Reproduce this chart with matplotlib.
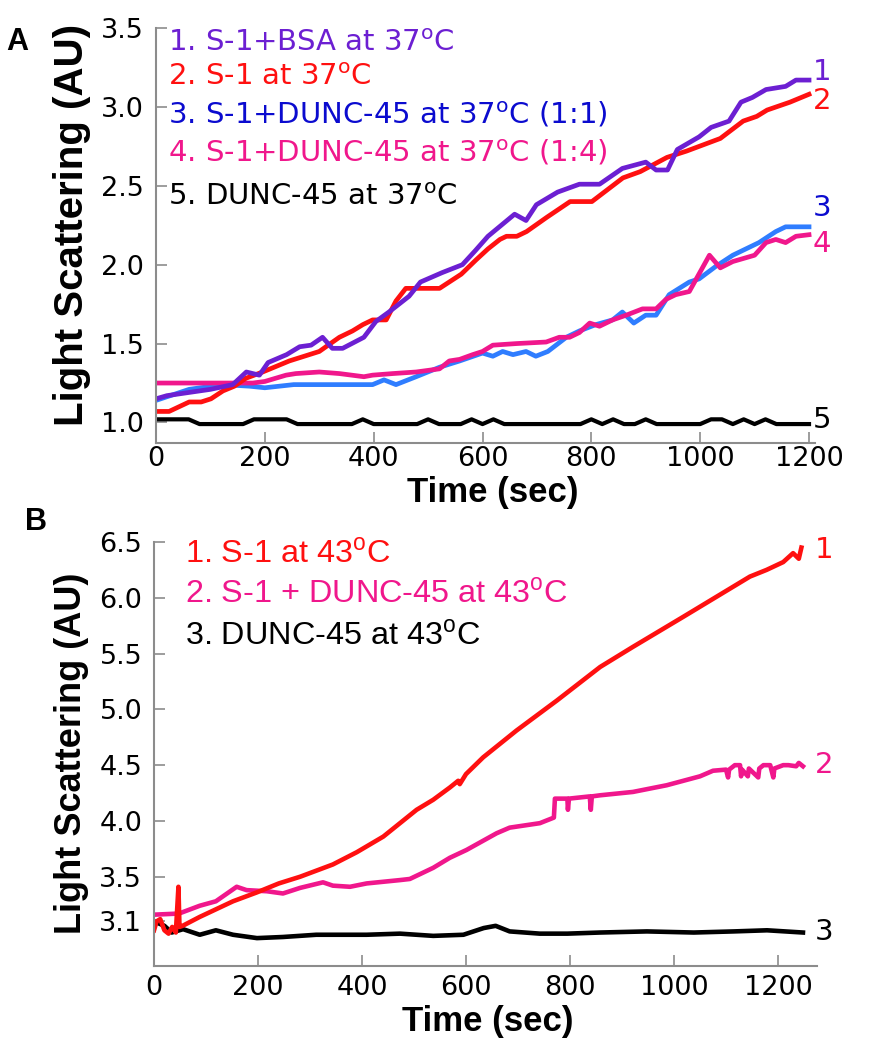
import matplotlib.pyplot as plt

# Panel A - light scattering at 37 C (sampled ~ every 20 s)
tA1 = [0, 20, 60, 100, 141, 166, 190, 206, 240, 264, 285, 306, 324, 343, 382, 404, 428, 465, 486, 526,
       563, 587, 610, 631, 659, 680, 699, 738, 778, 815, 857, 900, 919, 940, 958, 998, 1020, 1053, 1075,
       1096, 1121, 1139, 1157, 1176, 1200]
yA1 = [1.15, 1.17, 1.19, 1.21, 1.24, 1.32, 1.30, 1.38, 1.43, 1.48, 1.49, 1.54, 1.47, 1.47, 1.54, 1.64, 1.70,
       1.80, 1.89, 1.95, 2.00, 2.09, 2.18, 2.24, 2.32, 2.28, 2.38, 2.46, 2.51, 2.51, 2.61, 2.65, 2.60, 2.60,
       2.73, 2.81, 2.87, 2.91, 3.03, 3.06, 3.11, 3.12, 3.13, 3.17, 3.17]

tA2 = [0, 24, 61, 83, 101, 123, 144, 165, 196, 245, 300, 337, 361, 380, 398, 423, 441, 459, 521, 561,
       588, 610, 632, 644, 663, 681, 718, 761, 801, 858, 890, 939, 975, 1037, 1079, 1104, 1123, 1165, 1200]
yA2 = [1.07, 1.07, 1.13, 1.13, 1.15, 1.20, 1.23, 1.28, 1.32, 1.39, 1.45, 1.54, 1.58, 1.62, 1.65, 1.65, 1.77,
       1.85, 1.85, 1.94, 2.03, 2.10, 2.16, 2.18, 2.18, 2.21, 2.30, 2.40, 2.40, 2.55, 2.59, 2.68, 2.72, 2.80,
       2.91, 2.94, 2.98, 3.03, 3.08]

tA3 = [0, 61, 123, 172, 200, 253, 300, 398, 419, 441, 478, 521, 558, 600, 619, 637, 656, 680, 698, 720,
       754, 778, 808, 839, 857, 878, 900, 919, 943, 980, 998, 1029, 1060, 1108, 1139, 1157, 1200]
yA3 = [1.14, 1.21, 1.24, 1.23, 1.22, 1.24, 1.24, 1.24, 1.27, 1.24, 1.29, 1.35, 1.39, 1.44, 1.42, 1.45, 1.43,
       1.45, 1.42, 1.45, 1.54, 1.58, 1.62, 1.65, 1.70, 1.63, 1.68, 1.68, 1.81, 1.89, 1.91, 1.99, 2.06, 2.14,
       2.21, 2.24, 2.24]

tA4 = [0, 141, 178, 200, 239, 257, 300, 337, 382, 398, 435, 478, 521, 539, 558, 582, 600, 619, 662, 717,
       741, 760, 778, 797, 815, 839, 864, 894, 919, 937, 955, 980, 1017, 1037, 1060, 1100, 1121, 1139, 1157,
       1176, 1200]
yA4 = [1.25, 1.25, 1.25, 1.26, 1.30, 1.31, 1.32, 1.31, 1.29, 1.30, 1.31, 1.32, 1.34, 1.39, 1.40, 1.43, 1.45,
       1.49, 1.50, 1.51, 1.54, 1.54, 1.57, 1.63, 1.61, 1.65, 1.68, 1.72, 1.72, 1.78, 1.81, 1.83, 2.06, 1.98,
       2.02, 2.06, 2.14, 2.16, 2.14, 2.18, 2.19]

tA5 = list(range(0, 1201, 20))
yA5 = [1.02, 1.02, 1.02, 1.02, 0.99, 0.99, 0.99, 0.99, 0.99, 1.02, 1.02, 1.02, 1.02, 0.99, 0.99, 0.99,
       0.99, 0.99, 0.99, 1.02, 0.99, 0.99, 0.99, 0.99, 0.99, 1.02, 0.99, 0.99, 0.99, 1.02, 0.99, 1.02,
       0.99, 0.99, 0.99, 0.99, 0.99, 0.99, 0.99, 0.99, 1.02, 0.99, 1.02, 0.99, 0.99, 1.02, 0.99, 0.99,
       0.99, 0.99, 0.99, 1.02, 1.02, 0.99, 1.02, 0.99, 1.02, 0.99, 0.99, 0.99, 0.99]

# Panel B - light scattering at 43 C
tB1 = [0, 5, 12, 20, 28, 35, 42, 47, 49, 55, 88, 120, 152, 198, 240, 281, 344, 390, 441, 505, 537, 569,
       585, 588, 600, 633, 697, 775, 858, 921, 1018, 1082, 1146, 1178, 1210, 1229, 1240, 1245]
yB1 = [3.02, 3.10, 3.12, 3.02, 2.99, 3.05, 3.00, 3.41, 3.05, 3.06, 3.14, 3.21, 3.28, 3.36, 3.44, 3.50, 3.61,
       3.72, 3.86, 4.10, 4.19, 4.30, 4.36, 4.33, 4.42, 4.57, 4.81, 5.08, 5.38, 5.56, 5.83, 6.01, 6.19, 6.25,
       6.32, 6.40, 6.35, 6.45]

tB2 = [0, 48, 88, 119, 159, 178, 217, 248, 281, 325, 344, 377, 409, 473, 492, 537, 569, 601, 659, 684, 742,
       769, 771, 795, 796, 798, 838, 840, 842, 858, 921, 986, 1050, 1075, 1100, 1104, 1106, 1117, 1127, 1129,
       1131, 1142, 1144, 1162, 1164, 1172, 1185, 1191, 1193, 1210, 1220, 1235, 1240, 1248]
yB2 = [3.16, 3.17, 3.24, 3.28, 3.41, 3.38, 3.37, 3.35, 3.40, 3.45, 3.42, 3.41, 3.44, 3.47, 3.48, 3.58, 3.67,
       3.74, 3.89, 3.94, 3.98, 4.03, 4.20, 4.20, 4.10, 4.20, 4.22, 4.10, 4.22, 4.23, 4.26, 4.32, 4.40, 4.45,
       4.46, 4.39, 4.46, 4.50, 4.50, 4.40, 4.46, 4.40, 4.47, 4.39, 4.47, 4.50, 4.50, 4.39, 4.47, 4.50, 4.50,
       4.49, 4.52, 4.49]

tB3 = [0, 10, 20, 34, 56, 88, 119, 152, 198, 248, 312, 409, 473, 537, 595, 634, 657, 684, 742, 795, 858,
       948, 1038, 1115, 1179, 1248]
yB3 = [3.10, 3.08, 3.06, 3.00, 3.03, 2.98, 3.02, 2.98, 2.95, 2.96, 2.98, 2.98, 2.99, 2.97, 2.98, 3.04, 3.06,
       3.01, 2.99, 2.99, 3.00, 3.01, 3.00, 3.01, 3.02, 3.00]

legA = ["1. S-1+BSA at 37$^\\mathregular{o}$C", "2. S-1 at 37$^\\mathregular{o}$C",
        "3. S-1+DUNC-45 at 37$^\\mathregular{o}$C (1:1)", "4. S-1+DUNC-45 at 37$^\\mathregular{o}$C (1:4)",
        "5. DUNC-45 at 37$^\\mathregular{o}$C"]
legB = ["1. S-1 at 43$^\\mathregular{o}$C", "2. S-1 + DUNC-45 at 43$^\\mathregular{o}$C",
        "3. DUNC-45 at 43$^\\mathregular{o}$C"]

W, H = 878, 1050
fig = plt.figure(figsize=(W / 100, H / 100), dpi=100)


def box(l, t, r, b):
    return [l / W, 1 - b / H, (r - l) / W, (b - t) / H]


def fx(x):
    return x / W


def fy(y):
    return 1 - y / H


axA = fig.add_axes(box(156, 28, 815, 443))
axB = fig.add_axes(box(154, 542, 817, 966))

purple, red, blue, pink = "#6c1fd2", "#ff1010", "#2f7dff", "#f0178c"

axA.plot(tA5, yA5, color="black", lw=3)
axA.plot(tA3, yA3, color=blue, lw=3.4)
axA.plot(tA4, yA4, color=pink, lw=3.4)
axA.plot(tA2, yA2, color=red, lw=3.4)
axA.plot(tA1, yA1, color=purple, lw=3.4)
axA.set_xlim(0, 1211)
axA.set_ylim(0.87, 3.5)
axA.set_xticks(range(0, 1201, 200))
axA.set_yticks([1.0, 1.5, 2.0, 2.5, 3.0, 3.5])
axA.set_yticklabels(["1.0", "1.5", "2.0", "2.5", "3.0", "3.5"])

axB.plot(tB3, yB3, color="black", lw=3.3)
axB.plot(tB2, yB2, color=pink, lw=3.3)
axB.plot(tB1, yB1, color=red, lw=3.3)
axB.set_xlim(0, 1275)
axB.set_ylim(2.70, 6.5)
axB.set_xticks(range(0, 1201, 200))
axB.set_yticks([3.1, 3.5, 4.0, 4.5, 5.0, 5.5, 6.0, 6.5])
axB.set_yticklabels(["3.1", "3.5", "4.0", "4.5", "5.0", "5.5", "6.0", "6.5"])

for ax, xpad in ((axA, 2.5), (axB, 6.5)):
    ax.spines[["top", "right"]].set_visible(False)
    for s in ("left", "bottom"):
        ax.spines[s].set_color("#8c8c8c")
        ax.spines[s].set_linewidth(1.5)
    ax.tick_params(direction="in", length=8, width=1.2, color="#8c8c8c", labelsize=19.5)
    ax.tick_params(axis="y", pad=8.5)
    ax.tick_params(axis="x", pad=xpad)

# axis titles and panel letters
lab = dict(family="Liberation Sans", weight="bold", ha="center", va="center")
fig.text(fx(493), fy(493), "Time (sec)", size=25, **lab)
fig.text(fx(488), fy(1022), "Time (sec)", size=25, **lab)
fig.text(fx(72), fy(225), "Light Scattering (AU)", rotation=90, size=29, **lab)
fig.text(fx(72), fy(753), "Light Scattering (AU)", rotation=90, size=26, **lab)
fig.text(fx(17), fy(42), "A", size=22, **lab)
fig.text(fx(36), fy(522), "B", size=22, **lab)

# legends written as coloured text
colA = [purple, red, "#0b0bcf", pink, "black"]
for txt, c, y in zip(legA, colA, [43, 77, 115, 153, 197]):
    fig.text(fx(168), fy(y), txt, color=c, size=21, va="center")
for txt, c, y in zip(legB, [red, pink, "black"], [555, 595, 637]):
    fig.text(fx(185), fy(y), txt, color=c, size=23.3, family="Liberation Sans", va="center")

# curve numbers at the right end
for txt, c, y in zip("12345", [purple, red, "#0b0bcf", pink, "black"], [72, 101, 208, 244, 420]):
    fig.text(fx(813), fy(y), txt, color=c, size=21, va="center")
for txt, c, y in zip("123", [red, pink, "black"], [550, 765, 932]):
    fig.text(fx(815), fy(y), txt, color=c, size=21, va="center")

fig.savefig("out.png", dpi=100)
